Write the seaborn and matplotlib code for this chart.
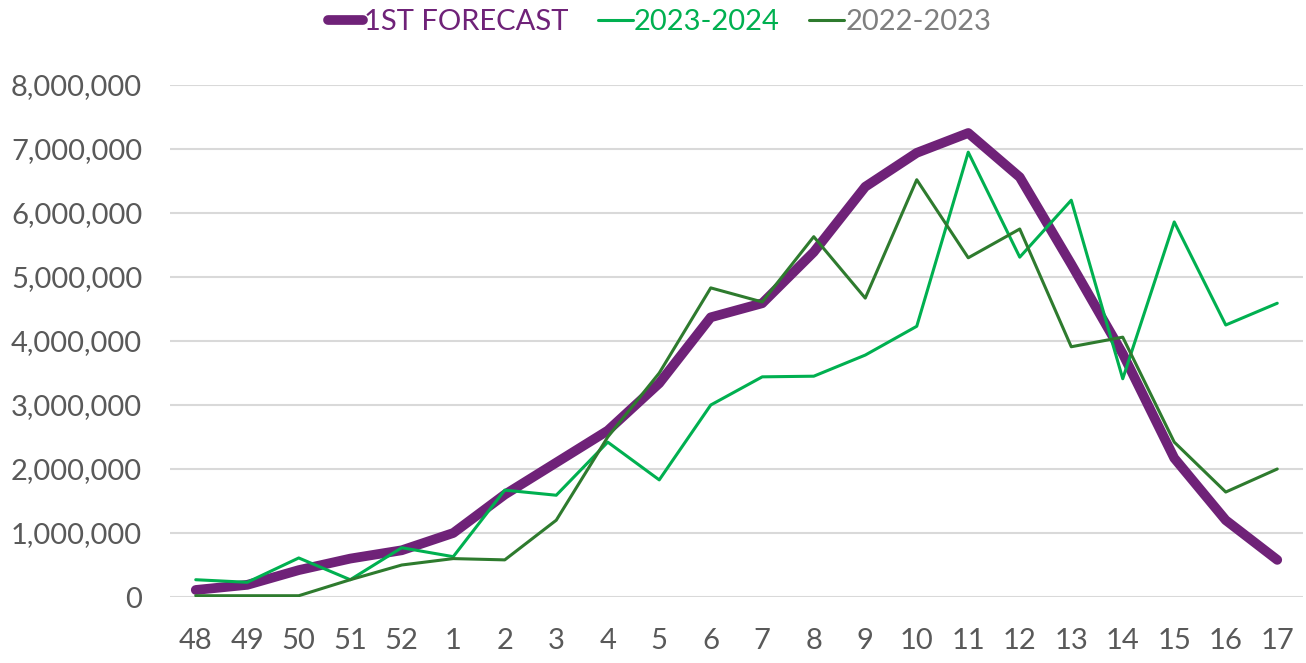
import numpy as np
import matplotlib.pyplot as plt
import seaborn as sns
import pandas as pd
from matplotlib.ticker import FuncFormatter

weeks = ["48", "49", "50", "51", "52", "1", "2", "3", "4", "5", "6", "7",
         "8", "9", "10", "11", "12", "13", "14", "15", "16", "17"]

forecast = [110000, 190000, 420000, 600000, 730000, 1000000, 1600000, 2100000,
            2600000, 3340000, 4370000, 4590000, 5390000, 6410000, 6940000,
            7250000, 6560000, 5200000, 3800000, 2170000, 1200000, 580000]

season_2324 = [270000, 230000, 610000, 270000, 770000, 630000, 1670000, 1590000,
               2420000, 1830000, 3000000, 3440000, 3450000, 3780000, 4230000,
               6950000, 5310000, 6200000, 3410000, 5860000, 4250000, 4590000]

season_2223 = [20000, 20000, 20000, 270000, 500000, 600000, 580000, 1200000,
               2500000, 3500000, 4830000, 4610000, 5630000, 4670000, 6520000,
               5300000, 5750000, 3910000, 4060000, 2420000, 1640000, 2000000]

series_names = ["1ST FORECAST", "2023-2024", "2022-2023"]
line_colors = ["#6F2278", "#00B050", "#2E7B2E"]
text_colors = ["#6F2278", "#00B050", "#7F7F7F"]
line_widths = [7, 2.2, 2.2]

sns.set_style("white")
plt.rcParams["font.family"] = ["Lato", "DejaVu Sans"]

fig = plt.figure(figsize=(13.06, 6.63), dpi=100)
ax = fig.add_axes([170 / 1306, 1 - 597 / 663, (1303 - 170) / 1306, (597 - 85) / 663])

df = pd.DataFrame({"week": weeks, series_names[0]: forecast,
                   series_names[1]: season_2324, series_names[2]: season_2223})
for name, col, lw in zip(series_names, line_colors, line_widths):
    sns.lineplot(data=df, x="week", y=name, sort=False, color=col, lw=lw,
                 ax=ax, label=name, solid_capstyle="round")

ax.set_xlim(-0.5, len(weeks) - 0.5)
ax.set_ylim(0, 8000000)
ax.set_yticks(np.arange(0, 8000001, 1000000))
ax.yaxis.set_major_formatter(FuncFormatter(lambda v, p: f"{int(v):,}"))
ax.grid(axis="y", color="#D9D9D9", lw=1.5)
ax.set_axisbelow(True)
for s in ax.spines.values():
    s.set_visible(False)
ax.tick_params(axis="both", length=0, labelsize=21, labelcolor="#595959")
ax.tick_params(axis="x", pad=22)
ax.tick_params(axis="y", pad=20)
ax.set_xlabel("")
ax.set_ylabel("")

leg = ax.legend(loc="upper center", bbox_to_anchor=(0.432, 1.2), ncol=3,
                frameon=False, fontsize=21, handlelength=1.2, handletextpad=0.05,
                columnspacing=1.0)
for txt, c in zip(leg.get_texts(), text_colors):
    txt.set_color(c)

plt.savefig("out.png", dpi=100)
